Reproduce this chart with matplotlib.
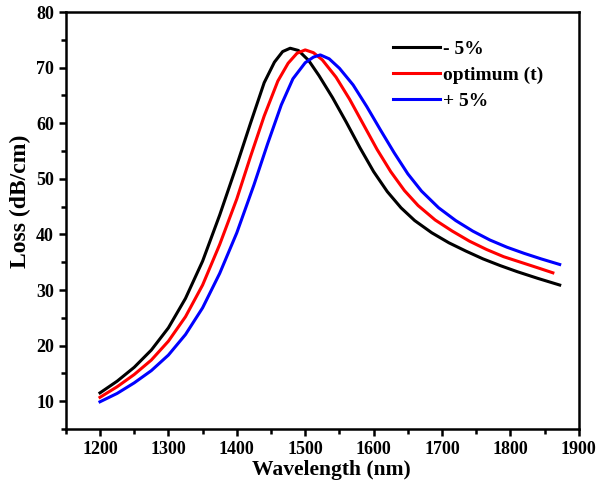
import matplotlib.pyplot as plt
from matplotlib.ticker import MultipleLocator

# readings, wavelength (nm) vs loss (dB/cm)
wl_minus = [1200, 1225, 1250, 1275, 1300, 1325, 1350, 1375, 1400, 1420, 1440, 1455,
            1467, 1478, 1490, 1505, 1520, 1540, 1560, 1580, 1600, 1620, 1640, 1660,
            1685, 1710, 1735, 1760, 1785, 1810, 1840, 1872]
loss_minus = [11.5, 13.6, 16.1, 19.2, 23.2, 28.5, 35.2, 43.5, 52.5, 60.0, 67.3, 71.0,
              72.9, 73.5, 73.1, 71.3, 68.6, 64.6, 60.2, 55.6, 51.3, 47.7, 44.8, 42.5,
              40.3, 38.5, 37.0, 35.6, 34.4, 33.3, 32.1, 30.9]

wl_opt = [1200, 1225, 1250, 1275, 1300, 1325, 1350, 1375, 1400, 1420, 1440, 1460,
          1475, 1488, 1500, 1512, 1525, 1545, 1565, 1585, 1605, 1625, 1645, 1665,
          1690, 1715, 1740, 1765, 1790, 1815, 1840, 1862]
loss_opt = [10.7, 12.6, 14.8, 17.4, 20.8, 25.2, 30.9, 38.2, 46.4, 54.0, 61.3, 67.6,
            70.8, 72.6, 73.2, 72.7, 71.4, 68.3, 64.3, 59.8, 55.3, 51.3, 47.9, 45.2,
            42.6, 40.6, 38.8, 37.3, 36.0, 35.0, 34.0, 33.1]

wl_plus = [1200, 1225, 1250, 1275, 1300, 1325, 1350, 1375, 1400, 1425, 1445, 1465,
           1482, 1500, 1512, 1522, 1535, 1550, 1570, 1590, 1610, 1630, 1650, 1670,
           1695, 1720, 1745, 1770, 1795, 1820, 1845, 1872]
loss_plus = [9.9, 11.4, 13.3, 15.5, 18.3, 22.0, 26.8, 33.0, 40.3, 48.9, 56.3, 63.3,
             68.0, 70.9, 71.9, 72.3, 71.6, 69.9, 66.9, 63.0, 58.8, 54.7, 50.9, 47.8,
             44.8, 42.5, 40.6, 39.0, 37.7, 36.6, 35.6, 34.6]

labels = ['- 5%', 'optimum (t)', '+ 5%']

plt.rcParams['font.family'] = ['Liberation Serif', 'DejaVu Serif']
plt.rcParams['font.weight'] = 'bold'

fig = plt.figure(figsize=(5.98, 4.84), dpi=100)
ax = fig.add_axes([0.11, 0.1136, 0.858, 0.8614])

ax.plot(wl_minus, loss_minus, color='black', lw=2.2, label=labels[0])
ax.plot(wl_opt, loss_opt, color='#ff0000', lw=2.2, label=labels[1])
ax.plot(wl_plus, loss_plus, color='#0000ff', lw=2.2, label=labels[2])

ax.set_xlim(1150, 1900)
ax.set_ylim(5, 80)
ax.xaxis.set_major_locator(MultipleLocator(100))
ax.xaxis.set_minor_locator(MultipleLocator(50))
ax.yaxis.set_major_locator(MultipleLocator(10))
ax.yaxis.set_minor_locator(MultipleLocator(5))

for s in ax.spines.values():
    s.set_linewidth(1.8)
ax.tick_params(which='both', direction='out', width=1.8, top=False, right=False,
               labelsize=13)
ax.tick_params(which='major', length=5)
ax.tick_params(which='minor', length=3.5)
for lbl in ax.get_xticklabels() + ax.get_yticklabels():
    lbl.set_fontweight('bold')

ax.set_xlabel('Wavelength (nm)', fontsize=15.5, fontweight='bold')
ax.xaxis.set_label_coords(0.517, -0.075)
ax.set_ylabel('Loss (dB/cm)', fontsize=17, fontweight='bold')
ax.yaxis.set_label_coords(-0.067, 0.545)

leg = ax.legend(loc='upper left', bbox_to_anchor=(0.637, 0.933), frameon=False,
                borderaxespad=0, borderpad=0,
                handlelength=2.45, handletextpad=0.15, labelspacing=0.44,
                prop={'size': 14, 'weight': 'bold'})

fig.savefig('out.png', dpi=100)
